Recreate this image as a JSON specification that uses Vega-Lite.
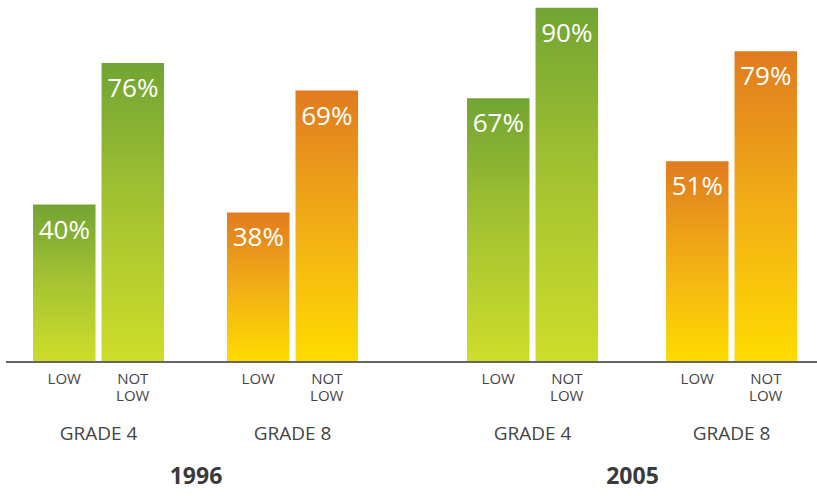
{
  "$schema": "https://vega.github.io/schema/vega-lite/v6.json",
  "padding": {"left": 5, "top": 0, "right": 0, "bottom": 0},
  "bounds": "flush",
  "spacing": 0,
  "background": "white",
  "config": {"view": {"stroke": null}, "font": "Open Sans", "concat": {"spacing": 0}},
  "data": {"values": [
    {"year": 1996, "grade": "GRADE 4", "status": "LOW", "value": 0.40},
    {"year": 1996, "grade": "GRADE 4", "status": "NOT LOW", "value": 0.76},
    {"year": 1996, "grade": "GRADE 8", "status": "LOW", "value": 0.38},
    {"year": 1996, "grade": "GRADE 8", "status": "NOT LOW", "value": 0.69},
    {"year": 2005, "grade": "GRADE 4", "status": "LOW", "value": 0.67},
    {"year": 2005, "grade": "GRADE 4", "status": "NOT LOW", "value": 0.90},
    {"year": 2005, "grade": "GRADE 8", "status": "LOW", "value": 0.51},
    {"year": 2005, "grade": "GRADE 8", "status": "NOT LOW", "value": 0.79}
  ]},
  "hconcat": [
    {
      "width": 384,
      "height": 362,
      "transform": [{"filter": "datum.year === 1996"}],
      "encoding": {
        "x": {"field": "grade", "type": "nominal",
          "scale": {"paddingInner": 0.3247, "paddingOuter": 0.152, "align": 0.458},
          "axis": {"domain": false, "ticks": false, "grid": false, "labelAngle": 0, "labelPadding": 62, "labelFontSize": 19, "labelColor": "#444444", "labelFont": "Open Sans",
            "title": "1996", "titleFontSize": 23, "titleFontWeight": "bold", "titleColor": "#3a3a3a", "titlePadding": 22, "titleX": 189.5, "titleFont": "Open Sans"}},
        "xOffset": {"field": "status", "type": "nominal", "scale": {"paddingInner": 0.0876, "paddingOuter": 0}},
        "y": {"field": "value", "type": "quantitative", "scale": {"domain": [0, 0.92], "nice": false}, "axis": null}
      },
      "layer": [
        {"mark": {"type": "bar", "cornerRadius": 0},
         "encoding": {"color": {"condition": {"test": "datum.grade === 'GRADE 4'", "value": {"gradient": "linear", "x1": 0, "y1": 0, "x2": 0, "y2": 1, "stops": [{"offset": 0, "color": "#72a433"}, {"offset": 0.5, "color": "#a6c431"}, {"offset": 1, "color": "#cedd2a"}]}},
                              "value": {"gradient": "linear", "x1": 0, "y1": 0, "x2": 0, "y2": 1, "stops": [{"offset": 0, "color": "#e07b1f"}, {"offset": 0.5, "color": "#f2ae16"}, {"offset": 1, "color": "#ffdc00"}]}}}},
        {"mark": {"type": "text", "color": "white", "fontSize": 26, "baseline": "alphabetic", "align": "center", "dy": 34, "font": "Open Sans"},
         "encoding": {"text": {"field": "value", "format": ".0%"}}},
        {"mark": {"type": "text", "color": "#444444", "fontSize": 15, "baseline": "top", "align": "center", "dy": 10, "lineBreak": " ", "lineHeight": 17, "font": "Open Sans"},
         "encoding": {"text": {"field": "status"}, "y": {"datum": 0}}},
        {"mark": {"type": "rule", "color": "#666666", "strokeWidth": 1.5},
         "encoding": {"y": {"datum": 0}, "x": null, "xOffset": null}}
      ]
    },
    {
      "width": 428,
      "height": 362,
      "transform": [{"filter": "datum.year === 2005"}],
      "encoding": {
        "x": {"field": "grade", "type": "nominal",
          "scale": {"paddingInner": 0.3417, "paddingOuter": 0.2462, "align": 0.786},
          "axis": {"domain": false, "ticks": false, "grid": false, "labelAngle": 0, "labelPadding": 62, "labelFontSize": 19, "labelColor": "#444444", "labelFont": "Open Sans",
            "title": "2005", "titleFontSize": 23, "titleFontWeight": "bold", "titleColor": "#3a3a3a", "titlePadding": 22, "titleX": 242, "titleFont": "Open Sans"}},
        "xOffset": {"field": "status", "type": "nominal", "scale": {"paddingInner": 0.0876, "paddingOuter": 0}},
        "y": {"field": "value", "type": "quantitative", "scale": {"domain": [0, 0.92], "nice": false}, "axis": null}
      },
      "layer": [
        {"mark": {"type": "bar", "cornerRadius": 0},
         "encoding": {"color": {"condition": {"test": "datum.grade === 'GRADE 4'", "value": {"gradient": "linear", "x1": 0, "y1": 0, "x2": 0, "y2": 1, "stops": [{"offset": 0, "color": "#72a433"}, {"offset": 0.5, "color": "#a6c431"}, {"offset": 1, "color": "#cedd2a"}]}},
                              "value": {"gradient": "linear", "x1": 0, "y1": 0, "x2": 0, "y2": 1, "stops": [{"offset": 0, "color": "#e07b1f"}, {"offset": 0.5, "color": "#f2ae16"}, {"offset": 1, "color": "#ffdc00"}]}}}},
        {"mark": {"type": "text", "color": "white", "fontSize": 26, "baseline": "alphabetic", "align": "center", "dy": 34, "font": "Open Sans"},
         "encoding": {"text": {"field": "value", "format": ".0%"}}},
        {"mark": {"type": "text", "color": "#444444", "fontSize": 15, "baseline": "top", "align": "center", "dy": 10, "lineBreak": " ", "lineHeight": 17, "font": "Open Sans"},
         "encoding": {"text": {"field": "status"}, "y": {"datum": 0}}},
        {"mark": {"type": "rule", "color": "#666666", "strokeWidth": 1.5},
         "encoding": {"y": {"datum": 0}, "x": null, "xOffset": null}}
      ]
    }
  ]
}
